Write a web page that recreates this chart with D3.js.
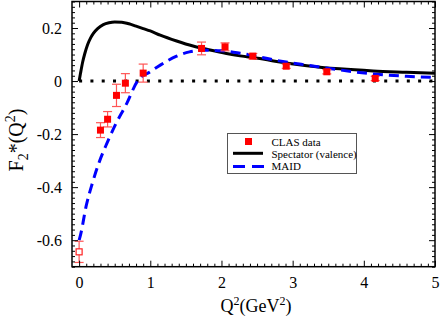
<!DOCTYPE html>
<html><head><meta charset="utf-8">
<script src="https://cdn.jsdelivr.net/npm/d3@7"></script>
<style>body{margin:0;background:#fff}svg{display:block}text{font-family:"Liberation Serif","Times New Roman",serif}</style>
</head><body><svg id="c" width="443" height="317"></svg>
<script>
const clasQ2 = [0.30, 0.40, 0.525, 0.65, 0.90, 1.72, 2.05, 2.44, 2.91, 3.48, 4.16];
const clasF2 = [-0.185, -0.144, -0.054, -0.008, 0.030, 0.123, 0.129, 0.094, 0.056, 0.035, 0.010];
const clasErr = [0.028, 0.029, 0.042, 0.036, 0.034, 0.024, 0.015, 0.010, 0.008, 0.008, 0.008];
const photonQ2 = [0.0];
const photonF2 = [-0.644];
const photonErr = [0.04];
const specQ2 = [0, 0.02, 0.05, 0.08, 0.12, 0.16, 0.20, 0.26, 0.34, 0.42, 0.50, 0.60, 0.70, 0.80, 0.90, 1.0, 1.14, 1.37, 1.60, 1.84, 2.07, 2.26, 2.54, 2.73, 3.2, 3.66, 4.13, 4.6, 5.0];
const specF2 = [0, 0.030, 0.072, 0.104, 0.138, 0.162, 0.180, 0.198, 0.213, 0.220, 0.223, 0.222, 0.216, 0.207, 0.198, 0.189, 0.173, 0.151, 0.132, 0.117, 0.104, 0.095, 0.085, 0.076, 0.058, 0.046, 0.038, 0.033, 0.029];
const maidQ2 = [0, 0.02, 0.1, 0.185, 0.29, 0.39, 0.5, 0.67, 0.82, 1.0, 1.14, 1.37, 1.55, 1.75, 2.0, 2.26, 2.73, 3.2, 3.66, 4.13, 4.6, 5.0];
const maidF2 = [-0.6, -0.58, -0.47, -0.386, -0.30, -0.235, -0.170, -0.084, 0, 0.035, 0.060, 0.094, 0.110, 0.116, 0.114, 0.105, 0.080, 0.060, 0.042, 0.027, 0.018, 0.014];
const xTicks = [0, 1, 2, 3, 4, 5];
const yTicks = [-0.6, -0.4, -0.2, 0, 0.2];
const yTickLabels = ["-0.6", "-0.4", "-0.2", "0", "0.2"];
const legendLabels = ["CLAS data", "Spectator (valence)", "MAID"];

const svg = d3.select("#c");
const L = 72, R = 435, T = 1.5, B = 266.7;
const x = d3.scaleLinear().domain([-0.1, 5]).range([L, R]);
const y = d3.scaleLinear().domain([-0.7, 0.3]).range([B, T]);

// zero dotted line
svg.append("line").attr("x1", x(0)).attr("x2", x(5)).attr("y1", y(0)).attr("y2", y(0))
  .attr("stroke", "#000").attr("stroke-width", 3).attr("stroke-dasharray", "3,8.3");

const line = d3.line().curve(d3.curveMonotoneX);
svg.append("path").attr("d", line(specQ2.map((q, i) => [x(q), y(specF2[i])])))
  .attr("fill", "none").attr("stroke", "#000").attr("stroke-width", 3);
svg.append("path").attr("d", line(maidQ2.map((q, i) => [x(q), y(maidF2[i])])))
  .attr("fill", "none").attr("stroke", "#0000ff").attr("stroke-width", 3).attr("stroke-dasharray", "10,6");

// error bars
const errCol = "#ff5555";
function errBars(qs, fs, es) {
  qs.forEach((q, i) => {
    const cx = x(q), y1 = y(fs[i] - es[i]), y2 = y(fs[i] + es[i]);
    svg.append("line").attr("x1", cx).attr("x2", cx).attr("y1", y1).attr("y2", y2).attr("stroke", errCol).attr("stroke-width", 1.2);
    [y1, y2].forEach(yy => svg.append("line").attr("x1", cx - 4.5).attr("x2", cx + 4.5).attr("y1", yy).attr("y2", yy).attr("stroke", errCol).attr("stroke-width", 1.2));
  });
}
errBars(clasQ2, clasF2, clasErr);
errBars(photonQ2, photonF2, photonErr);
svg.selectAll(".pt").data(clasQ2).enter().append("rect")
  .attr("x", (d) => x(d) - 3.5).attr("y", (d, i) => y(clasF2[i]) - 3.5).attr("width", 7).attr("height", 7).attr("fill", "#ff0000");
svg.selectAll(".op").data(photonQ2).enter().append("rect")
  .attr("x", (d) => x(d) - 3).attr("y", (d, i) => y(photonF2[i]) - 3).attr("width", 6).attr("height", 6)
  .attr("fill", "#fff").attr("stroke", "#ff2222").attr("stroke-width", 1.2);

// axes with inward ticks on all sides
const g = svg.append("g");
function ticks(axisGen, transform) {
  const a = g.append("g").attr("transform", transform).call(axisGen);
  a.select(".domain").remove();
  a.selectAll("line").attr("stroke", "#000").attr("stroke-width", 1);
  return a;
}
const xMinor = d3.range(0, 51).map(i => i / 10).filter(v => Math.abs(v - Math.round(v)) > 1e-6);
const yMinor = d3.range(-35, 16).map(i => i * 0.02).filter(v => Math.abs(v * 5 - Math.round(v * 5)) > 1e-6);
ticks(d3.axisBottom(x).tickValues(xMinor).tickSize(-3).tickFormat(""), `translate(0,${B})`);
ticks(d3.axisTop(x).tickValues(xMinor).tickSize(-3).tickFormat(""), `translate(0,${T})`);
ticks(d3.axisLeft(y).tickValues(yMinor).tickSize(-3).tickFormat(""), `translate(${L},0)`);
ticks(d3.axisRight(y).tickValues(yMinor).tickSize(-3).tickFormat(""), `translate(${R},0)`);
ticks(d3.axisTop(x).tickValues(xTicks).tickSize(-6).tickFormat(""), `translate(0,${T})`);
ticks(d3.axisRight(y).tickValues(yTicks).tickSize(-6).tickFormat(""), `translate(${R},0)`);
const xb = ticks(d3.axisBottom(x).tickValues(xTicks).tickSize(-6).tickPadding(10).tickFormat(d3.format("d")), `translate(0,${B})`);
xb.selectAll("text").attr("font-size", 16).attr("fill", "#000").attr("font-family", "Liberation Serif");
const yl = ticks(d3.axisLeft(y).tickValues(yTicks).tickSize(-6).tickPadding(10).tickFormat((d, i) => yTickLabels[i]), `translate(${L},0)`);
yl.selectAll("text").attr("font-size", 16).attr("fill", "#000").attr("font-family", "Liberation Serif");

svg.append("rect").attr("x", L).attr("y", T).attr("width", R - L).attr("height", B - T)
  .attr("fill", "none").attr("stroke", "#000").attr("stroke-width", 1.5);

// axis titles
const xt = svg.append("text").attr("x", 256).attr("y", 312).attr("text-anchor", "middle").attr("font-size", 18);
xt.append("tspan").text("Q");
xt.append("tspan").attr("dy", -7).attr("font-size", 12).text("2");
xt.append("tspan").attr("dy", 7).text("(GeV");
xt.append("tspan").attr("dy", -7).attr("font-size", 12).text("2");
xt.append("tspan").attr("dy", 7).text(")");
const yt = svg.append("text").attr("transform", "translate(23,140) rotate(-90)").attr("text-anchor", "middle").attr("font-size", 20);
yt.append("tspan").text("F");
yt.append("tspan").attr("dy", 5).attr("font-size", 14).text("2");
yt.append("tspan").attr("dy", -5).text("*(Q");
yt.append("tspan").attr("dy", -8).attr("font-size", 14).text("2");
yt.append("tspan").attr("dy", 8).text(")");

// legend
const lg = svg.append("g");
lg.append("rect").attr("x", 227.5).attr("y", 133.5).attr("width", 129).attr("height", 40)
  .attr("fill", "#fff").attr("stroke", "#555").attr("stroke-width", 1);
lg.append("rect").attr("x", 245).attr("y", 138).attr("width", 7).attr("height", 7).attr("fill", "#ff0000");
lg.append("line").attr("x1", 233).attr("x2", 263).attr("y1", 153.3).attr("y2", 153.3).attr("stroke", "#000").attr("stroke-width", 3);
lg.append("line").attr("x1", 233).attr("x2", 264).attr("y1", 166.5).attr("y2", 166.5).attr("stroke", "#0000ff").attr("stroke-width", 3).attr("stroke-dasharray", "12,7");
legendLabels.forEach((t, i) => lg.append("text").attr("x", 271.5).attr("y", 145.5 + i * 12).attr("font-size", 11).text(t));
</script></body></html>
